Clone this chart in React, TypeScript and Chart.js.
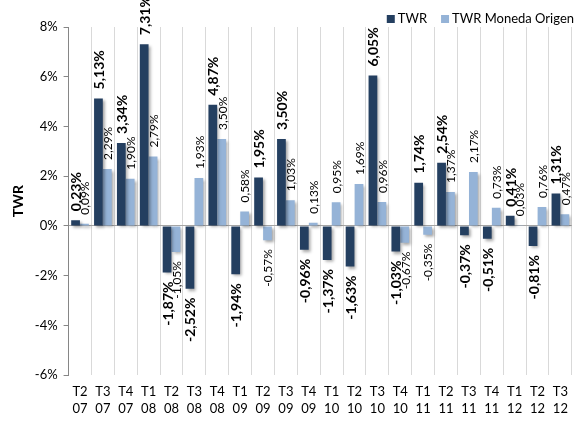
import React, { useEffect, useRef } from "react";
import { Chart, registerables } from "chart.js";

Chart.register(...registerables);

const quarters = ["T2","T3","T4","T1","T2","T3","T4","T1","T2","T3","T4","T1","T2","T3","T4","T1","T2","T3","T4","T1","T2","T3"];
const years = ["07","07","07","08","08","08","08","09","09","09","09","10","10","10","10","11","11","11","11","12","12","12"];
const twr = [0.23, 5.13, 3.34, 7.31, -1.87, -2.52, 4.87, -1.94, 1.95, 3.50, -0.96, -1.37, -1.63, 6.05, -1.03, 1.74, 2.54, -0.37, -0.51, 0.41, -0.81, 1.31];
const twrOrigen = [0.09, 2.29, 1.90, 2.79, -1.05, 1.93, 3.50, 0.58, -0.57, 1.03, 0.13, 0.95, 1.69, 0.96, -0.67, -0.35, 1.37, 2.17, 0.73, 0.03, 0.76, 0.47];
const yTicks = [-6, -4, -2, 0, 2, 4, 6, 8];

const FONT = 'Lato, "Liberation Sans", sans-serif';
const DARK = "#243F60";
const LIGHT = "#95B3D7";

const fmt = (v: number) => v.toFixed(2).replace(".", ",") + "%";

const shadowPlugin = {
  id: "barShadow",
  beforeDatasetsDraw(chart: any) {
    const ctx = chart.ctx;
    ctx.save();
    ctx.shadowColor = "rgba(0,0,0,0.35)";
    ctx.shadowBlur = 3;
    ctx.shadowOffsetX = 2;
    ctx.shadowOffsetY = 2;
  },
  afterDatasetsDraw(chart: any) {
    chart.ctx.restore();
  },
};

const labelPlugin = {
  id: "rotLabels",
  afterDraw(chart: any) {
    const ctx = chart.ctx;
    chart.data.datasets.forEach((ds: any, di: number) => {
      const meta = chart.getDatasetMeta(di);
      meta.data.forEach((bar: any, i: number) => {
        const v = ds.data[i] as number;
        ctx.save();
        ctx.fillStyle = "#000";
        ctx.font = di === 0 ? `bold 14px ${FONT}` : `12px ${FONT}`;
        const gap = 9;
        ctx.translate(bar.x + 1, v >= 0 ? bar.y - gap : bar.y + gap);
        ctx.rotate(-Math.PI / 2);
        ctx.textBaseline = "middle";
        ctx.textAlign = v >= 0 ? "left" : "right";
        ctx.fillText(fmt(v), 0, 0);
        ctx.restore();
      });
    });
  },
};

const legendPlugin = {
  id: "customLegend",
  afterDraw(chart: any) {
    const ctx = chart.ctx;
    ctx.save();
    ctx.font = `13px ${FONT}`;
    ctx.textBaseline = "middle";
    const items = chart.data.datasets.map((d: any) => ({ label: d.label, color: d.backgroundColor }));
    const box = 8;
    const gapBox = 3;
    const gapItem = 14;
    let total = 0;
    items.forEach((it: any, k: number) => {
      total += box + gapBox + ctx.measureText(it.label).width + (k < items.length - 1 ? gapItem : 0);
    });
    let x = chart.width - total - 2;
    const y = 19;
    items.forEach((it: any) => {
      ctx.fillStyle = it.color;
      ctx.fillRect(x, y - box / 2, box, box);
      x += box + gapBox;
      ctx.fillStyle = "#000";
      ctx.fillText(it.label, x, y);
      x += ctx.measureText(it.label).width + gapItem;
    });
    ctx.restore();
  },
};

export default function App() {
  const ref = useRef<HTMLCanvasElement | null>(null);
  useEffect(() => {
    document.body.style.margin = "0";
    const labels = quarters.map((q, i) => [q, years[i]]);
    const chart = new Chart(ref.current as HTMLCanvasElement, {
      type: "bar",
      data: {
        labels,
        datasets: [
          { label: "TWR", data: twr, backgroundColor: DARK, barPercentage: 0.98, categoryPercentage: 0.78 },
          { label: "TWR Moneda Origen", data: twrOrigen, backgroundColor: LIGHT, barPercentage: 0.98, categoryPercentage: 0.78 },
        ],
      },
      options: {
        animation: false,
        responsive: false,
        maintainAspectRatio: false,
        layout: { padding: { top: 27, left: 10, right: 0, bottom: 1 } },
        plugins: { legend: { display: false }, tooltip: { enabled: false } },
        scales: {
          x: {
            grid: { color: "#D9D9D9", drawTicks: false, offset: true },
            border: { display: false },
            ticks: { font: { family: FONT, size: 13, lineHeight: 1.3 }, color: "#000", padding: 8, maxRotation: 0, autoSkip: false },
          },
          y: {
            min: -6,
            max: 8,
            afterBuildTicks: (axis: any) => { axis.ticks = yTicks.map((v) => ({ value: v })); },
            ticks: { font: { family: FONT, size: 13 }, color: "#000", padding: 6, callback: (v: any) => `${v}%` },
            grid: {
              drawOnChartArea: true,
              color: (c: any) => (c.tick && c.tick.value === 0 ? "#A6A6A6" : "rgba(0,0,0,0)"),
              tickColor: "#868686",
              tickLength: 5,
            },
            border: { display: true, color: "#868686" },
            title: { display: true, text: "TWR", font: { family: FONT, size: 14, weight: "bold" }, color: "#000", padding: { top: 0, bottom: 2 } },
          },
        },
      },
      plugins: [shadowPlugin, labelPlugin, legendPlugin],
    });
    return () => chart.destroy();
  }, []);
  return (
    <div style={{ width: 576, height: 426 }}>
      <canvas ref={ref} width={576} height={426} style={{ display: "block" }} />
    </div>
  );
}
